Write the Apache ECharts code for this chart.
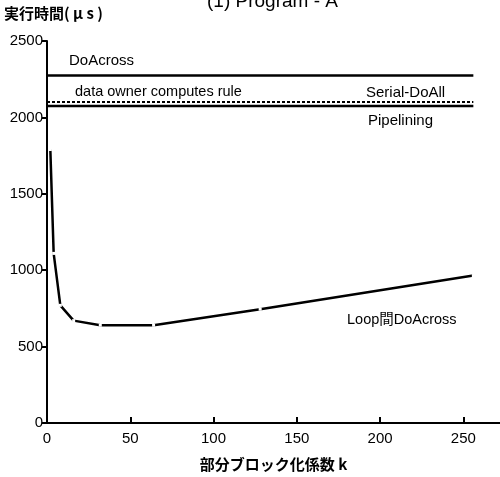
<!DOCTYPE html>
<html><head><meta charset="utf-8">
<script src="https://cdn.jsdelivr.net/npm/echarts@6/dist/echarts.min.js"></script>
<style>html,body{margin:0;padding:0;background:#fff}#c{width:500px;height:477px}</style>
</head><body><div id="c"></div>
<script>
const loopK = [2, 4, 8, 16, 32, 64, 128, 256];
const loopTime = [1790, 1110, 770, 670, 640, 640, 745, 965];
const lineK = [0, 256];
const doAcross = 2275;
const serialDoAll = 2100;
const pipelining = 2075;
const xTicks = [0, 50, 100, 150, 200, 250];
const yTicks = [0, 500, 1000, 1500, 2000, 2500];

const FONT = "'Liberation Sans Narrow','Liberation Sans','Noto Sans CJK JP',sans-serif";
const JP = "'Noto Sans CJK JP',sans-serif";
const flat = v => lineK.map(k => [k, v]);

const chart = echarts.init(document.getElementById('c'), null, {renderer: 'canvas'});
chart.setOption({
  animation: false,
  backgroundColor: '#fff',
  grid: {left: 47, right: 0, top: 41, bottom: 52},
  xAxis: {
    type: 'value', min: 0, max: 272, interval: 50,
    axisLine: {lineStyle: {color: '#000', width: 2}},
    axisTick: {inside: true, length: 6, lineStyle: {color: '#000', width: 2}},
    axisLabel: {color: '#000', fontSize: 15, fontFamily: FONT, margin: 8, showMaxLabel: false,
      formatter: v => xTicks.includes(v) ? String(v) : ''},
    splitLine: {show: false},
    name: '部分ブロック化係数 k', nameLocation: 'middle', nameGap: 34,
    nameTextStyle: {color: '#000', fontSize: 15, fontWeight: 'bold', fontFamily: JP}
  },
  yAxis: {
    type: 'value', min: 0, max: 2500, interval: 500,
    axisLine: {show: true, lineStyle: {color: '#000', width: 2}},
    axisTick: {show: true, length: 5, lineStyle: {color: '#000', width: 2}},
    axisLabel: {color: '#000', fontSize: 15, fontFamily: FONT, margin: 4,
      formatter: v => yTicks.includes(v) ? String(v) : ''},
    splitLine: {show: false}
  },
  graphic: [
    {type: 'text', left: 207, top: -8, style: {text: '(1) Program - A', fill: '#000', font: '19px ' + FONT}},
    {type: 'text', left: 4, top: 6, style: {text: '実行時間( μ s )', fill: '#000', font: 'bold 15px ' + JP}},
    {type: 'text', left: 69, top: 53, style: {text: 'DoAcross', fill: '#000', font: '15px ' + FONT}},
    {type: 'text', left: 75, top: 85, style: {text: 'data owner computes rule', fill: '#000', font: '14.5px ' + FONT}},
    {type: 'text', left: 366, top: 85, style: {text: 'Serial-DoAll', fill: '#000', font: '15px ' + FONT}},
    {type: 'text', left: 368, top: 113, style: {text: 'Pipelining', fill: '#000', font: '15px ' + FONT}},
    {type: 'text', left: 347, top: 313, style: {text: 'Loop間DoAcross', fill: '#000', font: '14.5px ' + FONT}}
  ],
  series: [
    {type: 'line', data: flat(doAcross), symbol: 'none', lineStyle: {color: '#000', width: 2.5}},
    {type: 'line', data: flat(serialDoAll), symbol: 'none', lineStyle: {color: '#000', width: 2, type: [3, 2]}},
    {type: 'line', data: flat(pipelining), symbol: 'none', lineStyle: {color: '#000', width: 2.5}},
    {type: 'line', data: loopK.map((k, i) => [k, loopTime[i]]), symbol: 'rect', symbolSize: 3,
      itemStyle: {color: '#fff', borderWidth: 0}, lineStyle: {color: '#000', width: 2.5}}
  ]
});
</script></body></html>
